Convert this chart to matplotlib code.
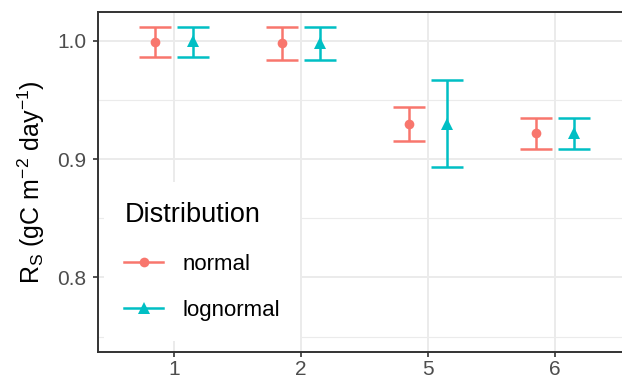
import matplotlib
matplotlib.use("Agg")
import matplotlib.pyplot as plt
from matplotlib.lines import Line2D
import numpy as np

plt.rcParams["font.family"] = ["Liberation Sans", "DejaVu Sans"]
plt.rcParams["mathtext.fontset"] = "custom"
plt.rcParams["mathtext.rm"] = "Liberation Sans"
plt.rcParams["mathtext.it"] = "Liberation Sans:italic"

categories = ["1", "2", "5", "6"]
normal_mean = [0.9992, 0.998, 0.9295, 0.922]
normal_lo = [0.9865, 0.9835, 0.9152, 0.9084]
normal_hi = [1.0118, 1.0118, 0.9439, 0.9346]
lognormal_mean = [1.0, 0.9985, 0.930, 0.9225]
lognormal_lo = [0.9865, 0.9835, 0.8932, 0.9084]
lognormal_hi = [1.0118, 1.0118, 0.9667, 0.9346]

red = "#F8766D"
cyan = "#00BFC4"

fig = plt.figure(figsize=(6.22, 3.80), dpi=100)
ax = fig.add_axes([98 / 622, 28 / 380, 533 / 622, 340 / 380])

x = np.arange(1, len(categories) + 1)
dodge = 0.15
cap = 11.5
lw = 1.8

for xs, m, lo, hi, col, mk, ms in [
    (x - dodge, normal_mean, normal_lo, normal_hi, red, "o", 7),
    (x + dodge, lognormal_mean, lognormal_lo, lognormal_hi, cyan, "^", 9),
]:
    m = np.array(m)
    err = [m - np.array(lo), np.array(hi) - m]
    ax.errorbar(xs, m, yerr=err, fmt="none", ecolor=col, elinewidth=lw,
                capsize=cap, capthick=lw, zorder=3)
    ax.plot(xs, m, linestyle="none", marker=mk, color=col, markersize=ms,
            markeredgewidth=0, zorder=4)

ax.set_xlim(0.4, 4.6)
ax.set_ylim(0.737, 1.0245)
ax.set_xticks(x)
ax.set_xticklabels(categories)
ax.set_yticks([0.8, 0.9, 1.0])
ax.set_yticks([0.75, 0.85, 0.95], minor=True)
ax.set_yticklabels(["0.8", "0.9", "1.0"])

ax.grid(True, which="major", color="#EBEBEB", linewidth=1.4, zorder=0)
ax.grid(True, which="minor", axis="y", color="#EBEBEB", linewidth=0.8, zorder=0)
ax.set_axisbelow(True)
ax.tick_params(axis="both", which="major", length=3.6, width=1.2, color="#333333",
               labelcolor="#4D4D4D", labelsize=15, pad=2.2)
ax.tick_params(axis="y", which="major", pad=4.5)
ax.tick_params(axis="both", which="minor", length=0)
for sp in ax.spines.values():
    sp.set_color("#333333")
    sp.set_linewidth(1.4)

ax.set_ylabel(r"R$_\mathregular{S}$ (gC m$^{-2}$ day$^{-1}$)", fontsize=18, labelpad=8)

handles = [
    Line2D([], [], color=red, marker="o", markersize=7, markeredgewidth=0, linewidth=lw),
    Line2D([], [], color=cyan, marker="^", markersize=9, markeredgewidth=0, linewidth=lw),
]
leg = ax.legend(handles, ["normal", "lognormal"], title="Distribution",
                loc="lower left", bbox_to_anchor=(0.012, 0.032), frameon=True,
                fontsize=16, title_fontsize=19.5, handlelength=1.75,
                labelspacing=1.15, handletextpad=0.86, borderpad=0.9,
                borderaxespad=0.0, fancybox=False)
leg.get_frame().set_facecolor("white")
leg.get_frame().set_edgecolor("none")
leg.get_frame().set_alpha(1)
leg._legend_box.align = "left"

fig.savefig("out.png", dpi=100)
